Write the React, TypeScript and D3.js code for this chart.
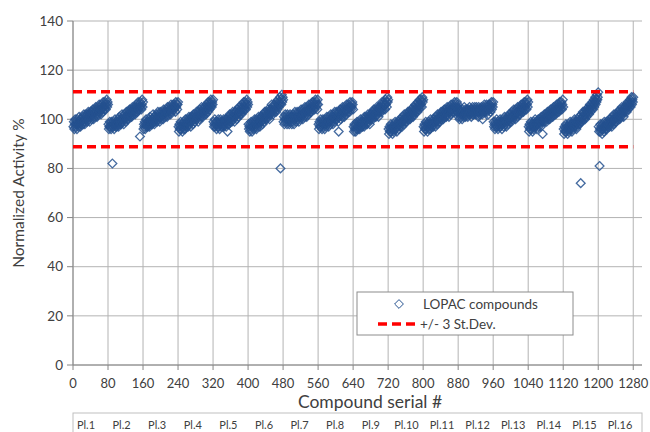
import React from "react";
import * as d3 from "d3";

// normalized activity per compound, one array per 80-compound plate
const plate1 = [97,99,96,98,100,97,99,98,96,100, 98,97,99,101,98,100,97,99,100,98, 99,101,98,100,102,99,98,101,100,102, 100,99,102,101,103,100,102,99,101,103, 102,100,103,101,104,102,100,103,104,101, 103,105,102,104,101,103,105,102,104,106, 103,105,104,102,106,104,105,103,107,105, 104,106,105,107,104,106,108,105,107,106];
const plate2 = [98,96,97,99,97,98,96,99,97,82, 98,97,99,96,98,100,97,99,98,97, 99,98,100,97,99,101,98,100,99,98, 100,102,99,101,100,98,102,100,101,99, 101,103,100,102,101,103,100,102,104,101, 103,102,104,101,103,105,102,104,103,105, 104,102,105,103,106,104,103,105,107,104, 106,105,93,107,105,104,106,108,105,107];
const plate3 = [96,98,97,99,96,98,100,97,99,98, 97,99,98,100,97,101,99,98,100,99, 98,100,102,99,101,98,100,99,101,100, 102,99,101,103,100,102,101,99,103,101, 100,102,101,103,102,100,104,102,103,101, 103,102,104,103,101,105,103,102,104,103, 105,104,102,106,104,103,105,104,106,105, 104,106,105,103,107,105,106,104,106,107];
const plate4 = [97,95,98,96,97,99,96,98,97,95, 98,96,99,97,98,96,100,98,97,99, 98,100,97,99,101,98,100,99,97,101, 100,99,101,98,102,100,101,99,102,100, 101,103,100,102,101,99,103,102,100,104, 102,101,103,105,102,104,101,103,105,102, 104,103,105,102,106,104,105,103,107,105, 106,104,107,105,108,106,105,107,106,108];
const plate5 = [99,97,98,100,97,99,98,96,99,97, 98,100,97,99,96,98,100,97,99,98, 97,99,98,100,97,99,98,100,99,97, 100,98,95,99,101,98,100,102,99,101, 100,102,99,101,103,100,102,101,99,103, 101,103,102,100,104,102,103,101,105,103, 102,104,103,105,102,106,104,103,105,107, 104,106,105,107,104,106,108,105,107,106];
const plate6 = [98,96,97,95,98,96,99,97,95,98, 97,99,96,98,100,97,99,98,96,100, 98,97,99,101,98,100,97,99,101,100, 99,101,98,102,100,99,101,103,100,102, 101,103,100,102,104,101,103,102,100,104, 103,102,104,106,103,105,102,104,106,103, 105,104,106,103,107,105,104,108,106,105, 107,106,109,80,108,106,110,107,109,108];
const plate7 = [99,101,98,100,102,99,101,100,98,102, 100,99,101,98,100,102,99,101,100,98, 101,99,102,100,98,101,103,100,102,99, 101,103,100,102,101,99,103,101,100,102, 104,101,103,102,100,104,102,103,101,105, 103,102,104,101,105,103,104,102,106,104, 103,105,104,106,103,105,107,104,106,105, 107,104,106,108,105,107,106,104,108,106];
const plate8 = [98,96,99,97,98,100,97,99,96,98, 100,97,99,98,96,100,98,97,99,101, 98,100,99,97,101,99,100,98,102,100, 99,101,100,98,102,101,99,103,100,102, 101,103,100,102,101,99,95,103,101,104, 102,100,104,103,101,105,102,104,103,101, 105,103,104,102,106,104,103,105,104,106, 105,103,107,105,104,106,105,107,106,104];
const plate9 = [97,95,98,96,97,95,98,96,99,97, 96,98,97,99,96,98,100,97,99,98, 97,99,98,100,97,101,99,98,100,99, 101,98,100,102,99,101,100,98,102,101, 100,102,101,103,100,102,104,101,103,102, 104,101,103,105,102,104,103,101,105,104, 103,105,104,106,103,107,105,104,106,105, 107,106,104,108,106,107,105,109,107,108];
const plate10 = [96,94,97,95,96,98,95,97,96,94, 97,95,98,96,97,99,96,98,97,95, 98,97,99,96,98,100,97,99,98,100, 99,97,101,99,100,98,102,100,99,101, 100,102,99,101,103,100,102,101,103,100, 102,104,101,103,102,104,101,105,103,102, 104,106,103,105,104,106,103,107,105,104, 106,108,105,107,106,108,105,109,107,108];
const plate11 = [97,95,98,96,97,99,96,98,97,95, 98,96,99,97,98,96,100,98,97,99, 98,100,97,99,98,100,99,97,101,99, 100,98,102,100,99,101,100,102,99,101, 103,100,102,101,103,100,102,104,101,103, 102,104,101,103,105,102,104,103,101,105, 103,104,102,106,104,103,105,104,106,103, 105,107,104,106,105,103,107,105,106,104];
const plate12 = [101,103,100,102,104,101,103,102,100,104, 102,101,103,105,102,104,101,103,102,104, 103,101,104,102,103,105,102,104,103,101, 104,102,105,103,102,104,103,105,102,104, 103,105,102,104,103,101,105,103,104,102, 104,103,105,104,102,100,104,105,103,106, 104,103,105,104,106,103,105,104,102,106, 105,104,106,103,105,107,104,106,105,107];
const plate13 = [99,97,98,96,99,97,98,100,97,99, 96,98,97,99,98,100,97,99,98,96, 99,98,100,97,99,101,98,100,99,97, 100,99,101,98,100,102,99,101,100,102, 101,99,103,101,100,102,104,101,103,102, 100,104,102,103,101,105,103,102,104,103, 105,102,104,106,103,105,104,106,103,105, 107,104,106,105,107,104,106,108,105,107];
const plate14 = [97,95,98,96,97,99,96,98,97,95, 98,96,99,97,98,100,97,99,98,96, 99,98,100,97,99,98,100,99,97,101, 99,100,94,101,99,100,102,99,101,100, 102,99,101,103,100,102,101,103,100,102, 104,101,103,102,104,101,103,105,102,104, 103,105,102,104,106,103,105,104,106,103, 105,107,104,106,105,107,104,106,108,105];
const plate15 = [96,94,97,95,96,98,95,97,96,94, 97,95,98,96,97,99,96,98,97,95, 98,96,99,97,98,100,97,99,98,96, 99,97,100,98,99,101,98,100,99,74, 100,102,99,101,103,100,102,101,103,100, 102,104,101,103,102,104,103,105,102,104, 106,103,105,104,106,105,107,104,106,108, 105,107,109,106,108,107,110,108,109,111];
const plate16 = [97,95,81,96,98,95,97,96,94,98, 96,97,95,99,97,96,98,97,99,96, 98,97,99,98,100,97,99,98,100,99, 97,101,99,100,98,102,100,99,101,100, 102,99,101,103,100,102,101,103,100,104, 102,101,103,105,102,104,103,101,105,104, 103,105,104,106,103,105,107,104,106,105, 107,106,108,105,107,109,106,108,107,109];

const plates = [plate1, plate2, plate3, plate4, plate5, plate6, plate7, plate8,
  plate9, plate10, plate11, plate12, plate13, plate14, plate15, plate16];
const plateLabels = plates.map((_, i) => `Pl.${i + 1}`);
const plateSize = 80;

const xTicks = d3.range(0, 1281, 80);
const yTicks = [0, 20, 40, 60, 80, 100, 120, 140];
const sdUpper = 111.2;
const sdLower = 88.8;

const font = "Lato, 'Open Sans', sans-serif";
const textColor = "#404040";
const markerColor = "#24518F";

const App = () => {
  const width = 650;
  const height = 432;

  const x = d3.scaleLinear().domain([0, 1300]).range([73, 642]);
  const y = d3.scaleLinear().domain([0, 140]).range([365, 21]);
  const plateX = d3.scalePoint().domain(plateLabels).range([86, 620]);

  const points = plates.flatMap((vals, p) =>
    vals.map((v, i) => ({ serial: p * plateSize + i + 1, value: v }))
  );

  const diamond = (cx, cy, r) =>
    `M${cx},${cy - r}L${cx + r},${cy}L${cx},${cy + r}L${cx - r},${cy}Z`;

  return (
    <svg width={width} height={height} style={{ position: "absolute", left: 0, top: 0, background: "#fff" }}>
      {/* grid */}
      {yTicks.map((t) => (
        <line key={"gy" + t} x1={x(0)} x2={x(1300)} y1={y(t)} y2={y(t)} stroke="#B3B3B3" strokeWidth={1} />
      ))}
      {xTicks.map((t) => (
        <line key={"gx" + t} x1={x(t)} x2={x(t)} y1={y(0)} y2={y(140)} stroke="#B3B3B3" strokeWidth={1} />
      ))}

      {/* axes */}
      <line x1={x(0)} x2={x(0)} y1={y(0)} y2={y(140)} stroke="#868686" />
      <line x1={x(0)} x2={x(1300)} y1={y(0)} y2={y(0)} stroke="#868686" />
      {yTicks.map((t) => (
        <g key={"ty" + t}>
          <line x1={x(0) - 6} x2={x(0)} y1={y(t)} y2={y(t)} stroke="#868686" />
          <text x={x(0) - 10} y={y(t)} dy="0.35em" textAnchor="end" fontSize={13.5} fontFamily={font} fill={textColor}>{t}</text>
        </g>
      ))}
      {xTicks.map((t) => (
        <g key={"tx" + t}>
          <line x1={x(t)} x2={x(t)} y1={y(0)} y2={y(0) + 5} stroke="#868686" />
          <text x={x(t)} y={388} textAnchor="middle" fontSize={13} fontFamily={font} fill={textColor}>{t}</text>
        </g>
      ))}

      {/* data */}
      {points.map((d) => (
        <path key={d.serial} d={diamond(x(d.serial), y(d.value), 4.4)} fill="none" stroke={markerColor} strokeOpacity={0.85} strokeWidth={1.3} />
      ))}

      {/* +/- 3 SD */}
      {[sdUpper, sdLower].map((v) => (
        <line key={"sd" + v} x1={x(0)} x2={x(1280)} y1={y(v)} y2={y(v)} stroke="#FF0000" strokeWidth={3.5} strokeDasharray="9,5" />
      ))}

      {/* titles */}
      <text transform={`translate(19,${(y(0) + y(140)) / 2}) rotate(-90)`} textAnchor="middle" dy="0.35em" fontSize={15.5} fontFamily={font} fill={textColor}>Normalized Activity %</text>
      <text x={370} y={408} textAnchor="middle" fontSize={17.5} fontFamily={font} fill={textColor}>Compound serial #</text>

      {/* legend */}
      <rect x={357} y={292} width={216} height={43} fill="#fff" stroke="#8C8C8C" />
      <path d={diamond(399, 304, 4.4)} fill="#fff" stroke={markerColor} strokeWidth={1} />
      <text x={423} y={304} dy="0.35em" fontSize={13.5} fontFamily={font} fill={textColor}>LOPAC compounds</text>
      <line x1={378} x2={418} y1={324} y2={324} stroke="#FF0000" strokeWidth={3.5} strokeDasharray="9,5" />
      <text x={420} y={324} dy="0.35em" fontSize={13.5} fontFamily={font} fill={textColor}>+/- 3 St.Dev.</text>

      {/* plate table */}
      <rect x={73} y={413} width={569} height={30} fill="none" stroke="#BFBFBF" />
      {plateLabels.map((p) => (
        <text key={p} x={plateX(p)} y={429} textAnchor="middle" fontSize={11} fontFamily={font} fill={textColor}>{p}</text>
      ))}
    </svg>
  );
};

export default App;
